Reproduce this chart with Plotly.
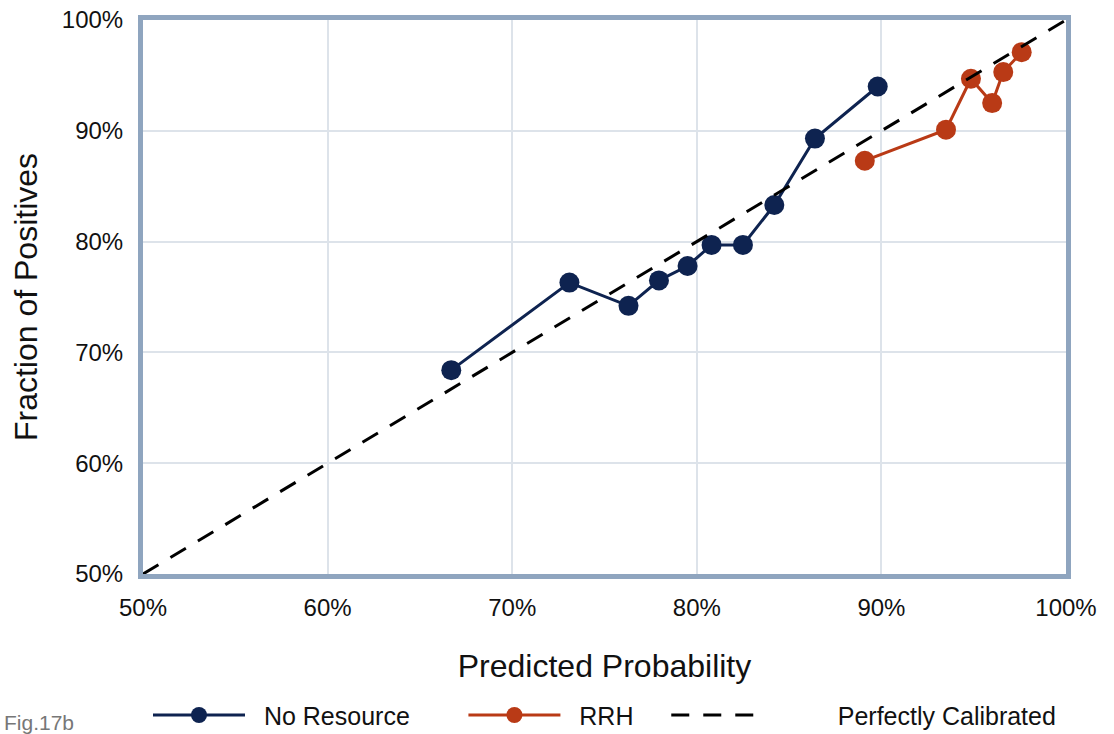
import plotly.graph_objects as go

no_res_x = [66.7, 73.1, 76.3, 77.95, 79.5, 80.8, 82.5, 84.2, 86.4, 89.8]
no_res_y = [68.4, 76.3, 74.2, 76.5, 77.8, 79.7, 79.7, 83.3, 89.3, 94.0]
rrh_x = [89.1, 93.5, 94.85, 96.0, 96.6, 97.6]
rrh_y = [87.3, 90.1, 94.7, 92.5, 95.3, 97.1]
calib = [50, 100]
tick_vals = [50, 60, 70, 80, 90, 100]
tick_text = ["50%", "60%", "70%", "80%", "90%", "100%"]
series_names = ["No Resource", "RRH", "Perfectly Calibrated"]

NAVY = "#0e2350"
RUST = "#b93a16"
FONT = "Liberation Sans, Arial, sans-serif"
NB = "\u00a0"

fig = go.Figure()
fig.add_trace(go.Scatter(x=no_res_x, y=no_res_y, mode="lines+markers",
                         name=NB * 2 + series_names[0] + NB * 7,
                         line=dict(color=NAVY, width=3), marker=dict(color=NAVY, size=20)))
fig.add_trace(go.Scatter(x=rrh_x, y=rrh_y, mode="lines+markers",
                         name=NB * 2 + series_names[1] + NB * 4,
                         line=dict(color=RUST, width=3), marker=dict(color=RUST, size=20)))
fig.add_trace(go.Scatter(x=calib, y=calib, mode="lines",
                         name=NB * 10 + series_names[2],
                         line=dict(color="black", width=3, dash="18px,14px")))

axis_common = dict(range=[50, 100], tickmode="array", tickvals=tick_vals, ticktext=tick_text,
                   showgrid=True, gridcolor="#dde3ea", gridwidth=2, zeroline=False,
                   showline=True, mirror=True, linecolor="#8fa5bf", linewidth=5,
                   tickfont=dict(size=24, color="#111", family=FONT), ticks="")
fig.update_xaxes(**axis_common, ticklabelstandoff=8,
                 title=dict(text="Predicted Probability", font=dict(size=32, color="#111", family=FONT), standoff=36))
fig.update_yaxes(**axis_common, ticklabelstandoff=10,
                 title=dict(text="Fraction of Positives", font=dict(size=32, color="#111", family=FONT), standoff=16))

fig.add_annotation(text="Fig.17b", xref="paper", yref="paper", x=-0.153, y=-0.268,
                   xanchor="left", yanchor="middle", showarrow=False,
                   font=dict(size=21, color="#777", family=FONT))

fig.update_layout(
    width=1114, height=734,
    margin=dict(l=143, r=48, t=20, b=160, autoexpand=False),
    paper_bgcolor="white", plot_bgcolor="white",
    font=dict(family=FONT, color="#111"),
    legend=dict(orientation="h", x=0.5, xanchor="center", y=-0.255, yanchor="middle",
                font=dict(size=25, family=FONT, color="#111"), itemwidth=92,
                tracegroupgap=0),
    showlegend=True,
)

fig.write_html("out.html", config={"displayModeBar": False},
               post_script="document.body.style.margin='0';")
